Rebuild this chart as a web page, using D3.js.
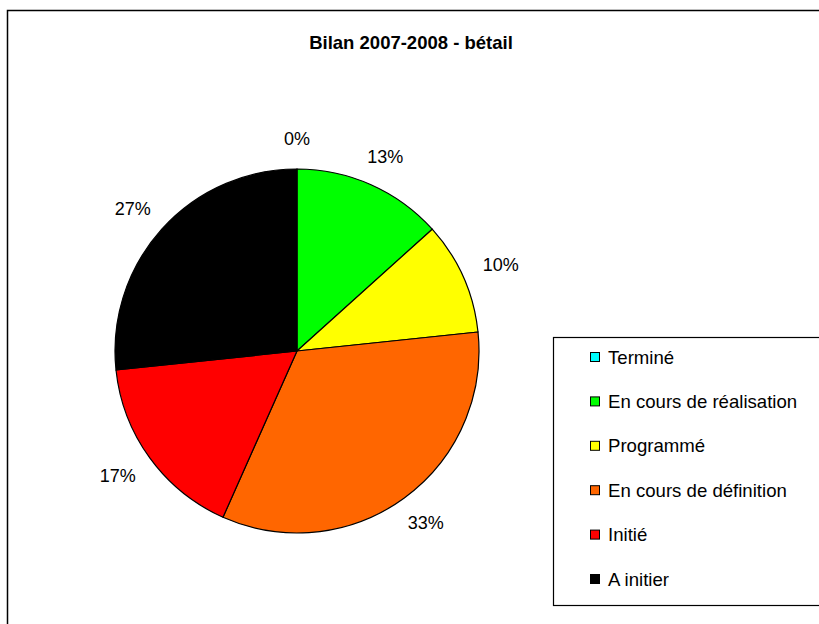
<!DOCTYPE html>
<html>
<head>
<meta charset="utf-8">
<script src="https://cdn.jsdelivr.net/npm/d3@7"></script>
<style>
  html, body { margin: 0; padding: 0; background: #fff; }
  svg { display: block; }
  text { font-family: "Liberation Sans", Arial, sans-serif; fill: #000; }
</style>
</head>
<body>
<svg id="chart" width="819" height="624"></svg>
<script>
const title = "Bilan 2007-2008 - bétail";
const categories = ["Terminé", "En cours de réalisation", "Programmé", "En cours de définition", "Initié", "A initier"];
const values = [0, 4, 3, 10, 5, 8];
const colors = ["#00FFFF", "#00FF00", "#FFFF00", "#FF6600", "#FF0000", "#000000"];

const svg = d3.select("#chart");
const W = 819, H = 624;

// outer chart border
svg.append("rect")
  .attr("x", 7.5).attr("y", 10.5)
  .attr("width", W + 20).attr("height", H + 20)
  .attr("fill", "#fff").attr("stroke", "#000").attr("stroke-width", 1.5);

svg.append("text")
  .attr("x", 411).attr("y", 49)
  .attr("text-anchor", "middle")
  .style("font-size", "18.5px").style("font-weight", "bold")
  .text(title);

const cx = 297, cy = 351, R = 182;
const total = d3.sum(values);
const pie = d3.pie().sort(null).value(d => d)(values);
const arc = d3.arc().innerRadius(0).outerRadius(R);

const g = svg.append("g").attr("transform", `translate(${cx},${cy})`);
g.selectAll("path.slice")
  .data(pie)
  .join("path")
  .attr("class", "slice")
  .attr("d", arc)
  .attr("fill", (d, i) => colors[i])
  .attr("stroke", "#000")
  .attr("stroke-width", 1.2)
  .attr("stroke-linejoin", "round");

const fmt = v => Math.round(v / total * 100) + "%";
const labelR = 212;
g.selectAll("text.lbl")
  .data(pie)
  .join("text")
  .attr("class", "lbl")
  .attr("text-anchor", "middle")
  .attr("dominant-baseline", "central")
  .style("font-size", "18px")
  .attr("x", d => {
    const a = (d.startAngle + d.endAngle) / 2;
    return (labelR) * Math.sin(a) + 12 * Math.sin(a) * Math.abs(Math.sin(a));
  })
  .attr("y", d => {
    const a = (d.startAngle + d.endAngle) / 2;
    return -(labelR) * Math.cos(a);
  })
  .text(d => fmt(d.data));

// legend
svg.append("rect")
  .attr("x", 553.5).attr("y", 337.5)
  .attr("width", 300).attr("height", 268)
  .attr("fill", "#fff").attr("stroke", "#000").attr("stroke-width", 1.2);

const ly = d3.scalePoint().domain(categories).range([357, 579]);
const leg = svg.append("g").selectAll("g")
  .data(categories)
  .join("g")
  .attr("transform", d => `translate(590,${ly(d)})`);
leg.append("rect")
  .attr("x", 0.5).attr("y", -4.5)
  .attr("width", 9).attr("height", 9)
  .attr("fill", (d, i) => colors[i])
  .attr("stroke", "#000").attr("stroke-width", 1);
leg.append("text")
  .attr("x", 18).attr("y", 0)
  .attr("dominant-baseline", "central")
  .style("font-size", "18.6px")
  .text(d => d);
</script>
</body>
</html>
